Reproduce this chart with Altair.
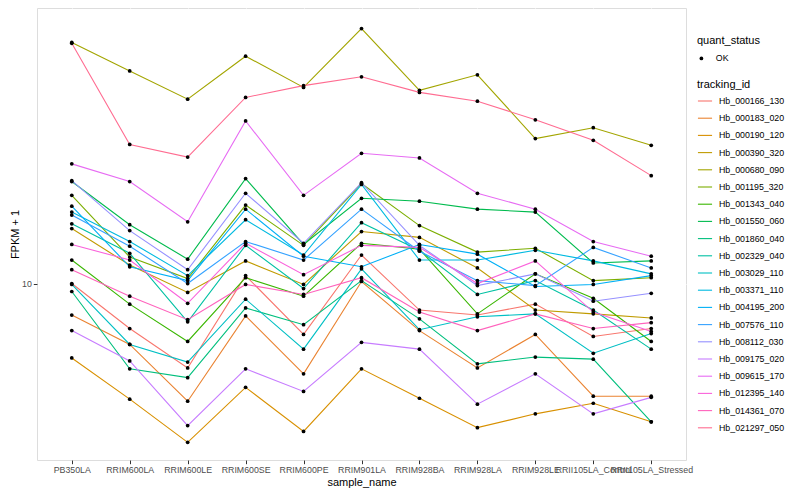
import altair as alt
import pandas as pd

samples = ["PB350LA", "RRIM600LA", "RRIM600LE", "RRIM600SE", "RRIM600PE", "RRIM901LA",
           "RRIM928BA", "RRIM928LA", "RRIM928LE", "RRII105LA_Control", "RRII105LA_Stressed"]

tracking_ids = ["Hb_000166_130", "Hb_000183_020", "Hb_000190_120", "Hb_000390_320", "Hb_000680_090",
                "Hb_001195_320", "Hb_001343_040", "Hb_001550_060", "Hb_001860_040", "Hb_002329_040",
                "Hb_003029_110", "Hb_003371_110", "Hb_004195_200", "Hb_007576_110", "Hb_008112_030",
                "Hb_009175_020", "Hb_009615_170", "Hb_012395_140", "Hb_014361_070", "Hb_021297_050"]

colors = ["#F8766D", "#EA8331", "#D89000", "#C09B00", "#A3A500", "#7CAE00", "#39B600", "#00BB4E",
          "#00BF7D", "#00C1A3", "#00BFC4", "#00BAE0", "#00B0F6", "#35A2FF", "#9590FF", "#C77CFF",
          "#E76BF3", "#FA62DB", "#FF62BC", "#FF6C91"]

# log10(FPKM + 1) per sample
hb_000166_130 = [1.000, 0.847, 0.713, 1.027, 0.827, 1.097, 0.910, 0.893, 0.930, 0.820, 0.847]
hb_000183_020 = [0.893, 0.793, 0.600, 0.890, 0.693, 1.007, 0.840, 0.713, 0.827, 0.617, 0.617]
hb_000190_120 = [0.747, 0.607, 0.460, 0.647, 0.497, 0.710, 0.610, 0.510, 0.557, 0.593, 0.530]
hb_000390_320 = [1.187, 1.063, 0.970, 1.077, 0.997, 1.177, 1.157, 1.053, 0.910, 0.897, 0.883]
hb_000680_090 = [1.820, 1.723, 1.627, 1.773, 1.667, 1.867, 1.657, 1.710, 1.493, 1.530, 1.470]
hb_001195_320 = [1.300, 1.090, 1.017, 1.267, 1.130, 1.340, 1.197, 1.107, 1.120, 1.010, 1.020]
hb_001343_040 = [1.080, 0.930, 0.803, 1.020, 0.957, 1.137, 1.117, 0.897, 1.033, 0.950, 0.803]
hb_001550_060 = [1.347, 1.200, 1.083, 1.357, 1.133, 1.290, 1.280, 1.253, 1.243, 1.070, 1.077]
hb_001860_040 = [0.973, 0.710, 0.680, 0.917, 0.860, 1.010, 0.880, 0.727, 0.750, 0.743, 0.530]
hb_002329_040 = [1.203, 1.103, 0.870, 1.130, 0.983, 1.207, 1.113, 0.963, 1.010, 0.910, 0.777]
hb_003029_110 = [0.997, 0.793, 0.733, 0.947, 0.777, 1.050, 0.843, 0.887, 0.897, 0.763, 0.830]
hb_003371_110 = [1.243, 1.143, 1.027, 1.217, 1.097, 1.337, 1.080, 1.080, 1.113, 1.077, 1.033]
hb_004195_200 = [1.263, 1.057, 1.010, 1.253, 1.093, 1.057, 1.133, 1.100, 0.990, 0.997, 1.027]
hb_007576_110 = [1.233, 1.127, 1.000, 1.143, 1.080, 1.253, 1.110, 1.010, 0.993, 1.123, 1.053]
hb_008112_030 = [1.350, 1.180, 1.047, 1.307, 1.137, 1.343, 1.130, 0.993, 1.033, 0.940, 0.967]
hb_009175_020 = [0.840, 0.737, 0.517, 0.710, 0.633, 0.800, 0.777, 0.590, 0.693, 0.557, 0.613]
hb_009615_170 = [1.407, 1.347, 1.210, 1.553, 1.300, 1.443, 1.427, 1.307, 1.253, 1.143, 1.093]
hb_012395_140 = [1.133, 1.080, 0.933, 1.137, 1.030, 1.130, 1.123, 1.000, 1.077, 0.903, 0.837]
hb_014361_070 = [1.047, 0.957, 0.877, 0.997, 0.963, 1.020, 0.903, 0.840, 0.897, 0.847, 0.867]
hb_021297_050 = [1.817, 1.473, 1.430, 1.633, 1.673, 1.703, 1.650, 1.620, 1.557, 1.487, 1.367]

series = [hb_000166_130, hb_000183_020, hb_000190_120, hb_000390_320, hb_000680_090,
          hb_001195_320, hb_001343_040, hb_001550_060, hb_001860_040, hb_002329_040,
          hb_003029_110, hb_003371_110, hb_004195_200, hb_007576_110, hb_008112_030,
          hb_009175_020, hb_009615_170, hb_012395_140, hb_014361_070, hb_021297_050]

rows = []
for tid, vals in zip(tracking_ids, series):
    for s, lv in zip(samples, vals):
        rows.append({"tracking_id": tid, "sample_name": s, "fpkm": 10 ** lv, "quant_status": "OK"})
df = pd.DataFrame(rows)

FONT = "Liberation Sans"

x = alt.X("sample_name:N", sort=samples,
          scale=alt.Scale(type="point", padding=0.6),
          axis=alt.Axis(title="sample_name", labelAngle=0, labelOverlap=False, labelLimit=0,
                        labelFontSize=8.8, labelColor="#4D4D4D", tickColor="#333333", tickSize=3.7,
                        domain=False, grid=True, gridColor="white", gridWidth=1.1,
                        titleFontSize=11, titleFontWeight="normal", titleColor="black",
                        titlePadding=2, labelPadding=2))
y = alt.Y("fpkm:Q",
          scale=alt.Scale(type="log", domain=[2.512, 86.5], nice=False, zero=False),
          axis=alt.Axis(title="FPKM + 1", values=[10], format="d",
                        labelFontSize=8.8, labelColor="#4D4D4D", tickColor="#333333", tickSize=3.7,
                        domain=False, grid=True, gridColor="white", gridWidth=1.1,
                        titleFontSize=11, titleFontWeight="normal", titleColor="black",
                        titlePadding=1, labelPadding=2))

lines = alt.Chart(df).mark_line(strokeWidth=1.1).encode(
    x=x, y=y,
    color=alt.Color("tracking_id:N",
                    scale=alt.Scale(domain=tracking_ids, range=colors),
                    legend=alt.Legend(title="tracking_id", orient="none", legendX=660, legendY=71,
                                      titleFontSize=11, titleFontWeight="normal", titleColor="black",
                                      titlePadding=3, labelFontSize=8.8, labelColor="black",
                                      symbolType="stroke", symbolStrokeWidth=1.1, symbolSize=200,
                                      rowPadding=4.2, labelOffset=6)),
)

points = alt.Chart(df).mark_point(filled=True, size=14, color="black", opacity=1).encode(
    x=x, y=y,
    shape=alt.Shape("quant_status:N", scale=alt.Scale(domain=["OK"], range=["circle"]),
                    legend=alt.Legend(title="quant_status", orient="none", legendX=660, legendY=27,
                                      titleFontSize=11, titleFontWeight="normal", titleColor="black",
                                      titlePadding=8, labelFontSize=8.8, labelColor="black",
                                      symbolFillColor="black", symbolStrokeColor="black",
                                      symbolSize=14, labelOffset=10)),
)

chart = alt.layer(lines, points).properties(
    width=649, height=452,
    autosize=alt.AutoSizeParams(type="none"),
    padding={"left": 29, "top": 0, "right": 106, "bottom": 32},
    background="white",
).configure_view(fill="#EBEBEB", stroke=None).configure(font=FONT)

chart.save("out.html", embed_options={"renderer": "svg", "actions": False})
